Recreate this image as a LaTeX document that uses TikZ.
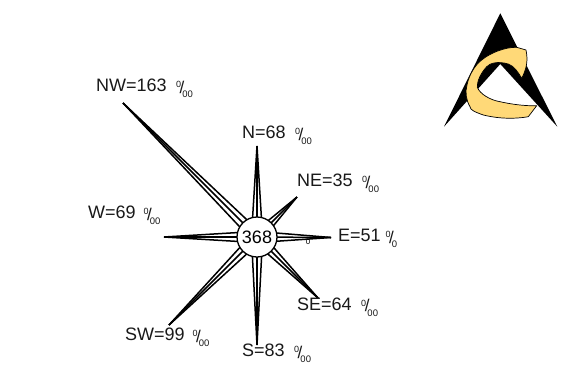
\documentclass[tikz,border=0pt]{standalone}
\usepackage{fontspec}
\setmainfont{Liberation Sans}
\usetikzlibrary{calc}
\definecolor{logoyellow}{RGB}{255,217,120}
\newcommand{\pmil}[1]{\kern#1pt\raisebox{4pt}{\fontsize{9}{9}\selectfont 0}\kern-1.5pt\raisebox{-1.5pt}{\fontsize{17}{17}\selectfont /}\kern-2pt\raisebox{-6pt}{\fontsize{9.5}{9.5}\selectfont 00}}
\newcommand{\pmilone}[1]{\kern#1pt\raisebox{4pt}{\fontsize{9}{9}\selectfont 0}\kern-1.5pt\raisebox{-1.5pt}{\fontsize{17}{17}\selectfont /}\kern-2pt\raisebox{-6pt}{\fontsize{9.5}{9.5}\selectfont 0}}
\tikzset{
  lab/.style={inner sep=0pt,anchor=west,font=\fontsize{18}{18}\selectfont,text=black!90},
  ray/.style={line width=1.5pt,black},
  hubnode/.style={circle,draw=black,line width=1.3pt,fill=white,minimum size=40pt,inner sep=0pt,font=\fontsize{18}{18}\selectfont}
}
\begin{document}
\begin{tikzpicture}[x=1pt,y=-1pt]
\useasboundingbox (0,0) rectangle (578,378);
\fill[white] (0,0) rectangle (578,378);
% logo
\fill[black] (500.3,13.3) -- (557.3,126.7) -- (500.3,64) -- (444,126.7) -- cycle;
\draw[fill=logoyellow,draw=black,line width=0.7pt,line join=round]
  (526,50) .. controls (528,60) and (527,68) .. (521.7,78.3)
  .. controls (518,72) and (514,66) .. (508.3,64)
  .. controls (498,61) and (490,63) .. (486.7,66.7)
  .. controls (480,74) and (477,82) .. (477.3,87.3)
  .. controls (480,94) and (490,100) .. (500,101.7)
  .. controls (515,105) and (527,106) .. (536.7,105.7)
  -- (528.3,116.7)
  .. controls (515,119) and (500,119) .. (483.3,115)
  .. controls (475,112) and (470,110) .. (470,106.7)
  .. controls (466,100) and (465,92) .. (467,85)
  .. controls (469,75) and (475,65) .. (481.7,60)
  .. controls (490,53) and (505,47) .. (516.7,47.3)
  -- cycle;
% wind rose
\coordinate (hubc) at (257,237);
\foreach \n/\tx/\ty in {n/257/146,ne/297/197,e/331/237.5,se/318/298,s/257/345,sw/169/325,w/164/237,nw/123/103}{
  \coordinate (\n) at (\tx,\ty);
  \draw[ray] (\n) -- ($(hubc)!5.6pt!90:(\n)$);
  \draw[ray] (\n) -- (hubc);
  \draw[ray] (\n) -- ($(hubc)!5.6pt!-90:(\n)$);
}
\node[hubnode] (hub) at (hubc) {368};
\node[lab] (lnw) at (96,88.5) {NW=163\pmil{9.5}};
\node[lab] (ln) at (242,135.5) {N=68\pmil{9.5}};
\node[lab] (lne) at (297,183.5) {NE=35\pmil{9.5}};
\node[lab] (le) at (338,238.5) {E=51\pmilone{5}};
\node[lab] (lse) at (297,307) {SE=64\pmil{9.5}};
\node[lab] (ls) at (242,353.5) {S=83\pmil{9.5}};
\node[lab] (lsw) at (125,337.5) {SW=99\pmil{8}};
\node[lab] (lw) at (88,215.5) {W=69\pmil{8}};
\node[inner sep=0pt,font=\fontsize{8}{8}\selectfont] (stray) at (308,242) {0};
\end{tikzpicture}
\end{document}
